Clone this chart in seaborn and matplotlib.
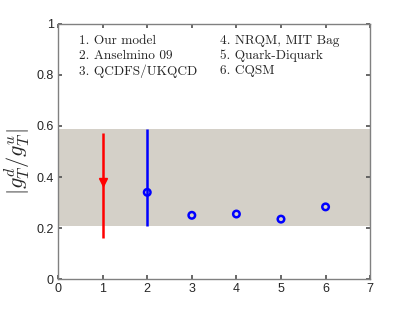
import numpy as np
import pandas as pd
import matplotlib
matplotlib.use("Agg")
import matplotlib.pyplot as plt
import seaborn as sns

# values
model_idx = [1, 2, 3, 4, 5, 6]
ratio = [0.38, 0.34, 0.25, 0.255, 0.235, 0.283]
err_lo = [0.16, 0.21, None, None, None, None]
err_hi = [0.573, 0.59, None, None, None, None]
band = (0.21, 0.59)
labels = ["1. Our model", "2. Anselmino 09", "3. QCDFS/UKQCD",
          "4. NRQM, MIT Bag", "5. Quark-Diquark", "6. CQSM"]

df = pd.DataFrame({"model": model_idx, "ratio": ratio, "lo": err_lo, "hi": err_hi})

sns.set_theme(style="white")
plt.rcParams["mathtext.fontset"] = "cm"
plt.rcParams["font.family"] = ["Liberation Sans", "DejaVu Sans"]

fig = plt.figure(figsize=(4.09, 3.15), dpi=100)
ax = fig.add_axes([0.142, 0.114, 0.763, 0.81])

ax.axhspan(band[0], band[1], color="#d4d0c8", lw=0, zorder=0)

# our model (red)
ours = df[df.model == 1]
ax.vlines(ours.model, ours.lo, ours.hi, color="red", lw=1.8, zorder=2)
ax.plot(ours.model, ours.ratio, marker="v", color="red", ms=6, ls="none", zorder=3)

# other models (blue)
rest = df[df.model > 1]
withbar = rest.dropna()
ax.vlines(withbar.model, withbar.lo, withbar.hi, color="blue", lw=1.8, zorder=2)
sns.scatterplot(data=rest, x="model", y="ratio", ax=ax, marker="o",
                facecolor="none", edgecolor="blue", linewidth=1.8, s=22, zorder=3)

for i, lab in enumerate(labels):
    col, row = divmod(i, 3)
    ax.text(0.47 + col * 3.16, 0.935 - row * 0.06, lab, family="cmr10",
            fontsize=9.6, va="center", ha="left")

ax.set_xlim(0, 7)
ax.set_ylim(0, 1)
ax.set_xticks(range(8))
ax.set_yticks([0, 0.2, 0.4, 0.6, 0.8, 1])
ax.set_yticklabels(["0", "0.2", "0.4", "0.6", "0.8", "1"])
ax.tick_params(direction="in", length=3, labelsize=9, top=True, right=True,
               bottom=True, left=True, color="#555555", pad=3)
ax.set_xlabel("")
ax.set_ylabel(r"$|g_T^d/g_T^u|$", fontsize=16)
ax.yaxis.set_label_coords(-0.085, 0.46)
for s in ax.spines.values():
    s.set_color("#808080")
    s.set_linewidth(1.0)

fig.savefig("out.png", dpi=100)
